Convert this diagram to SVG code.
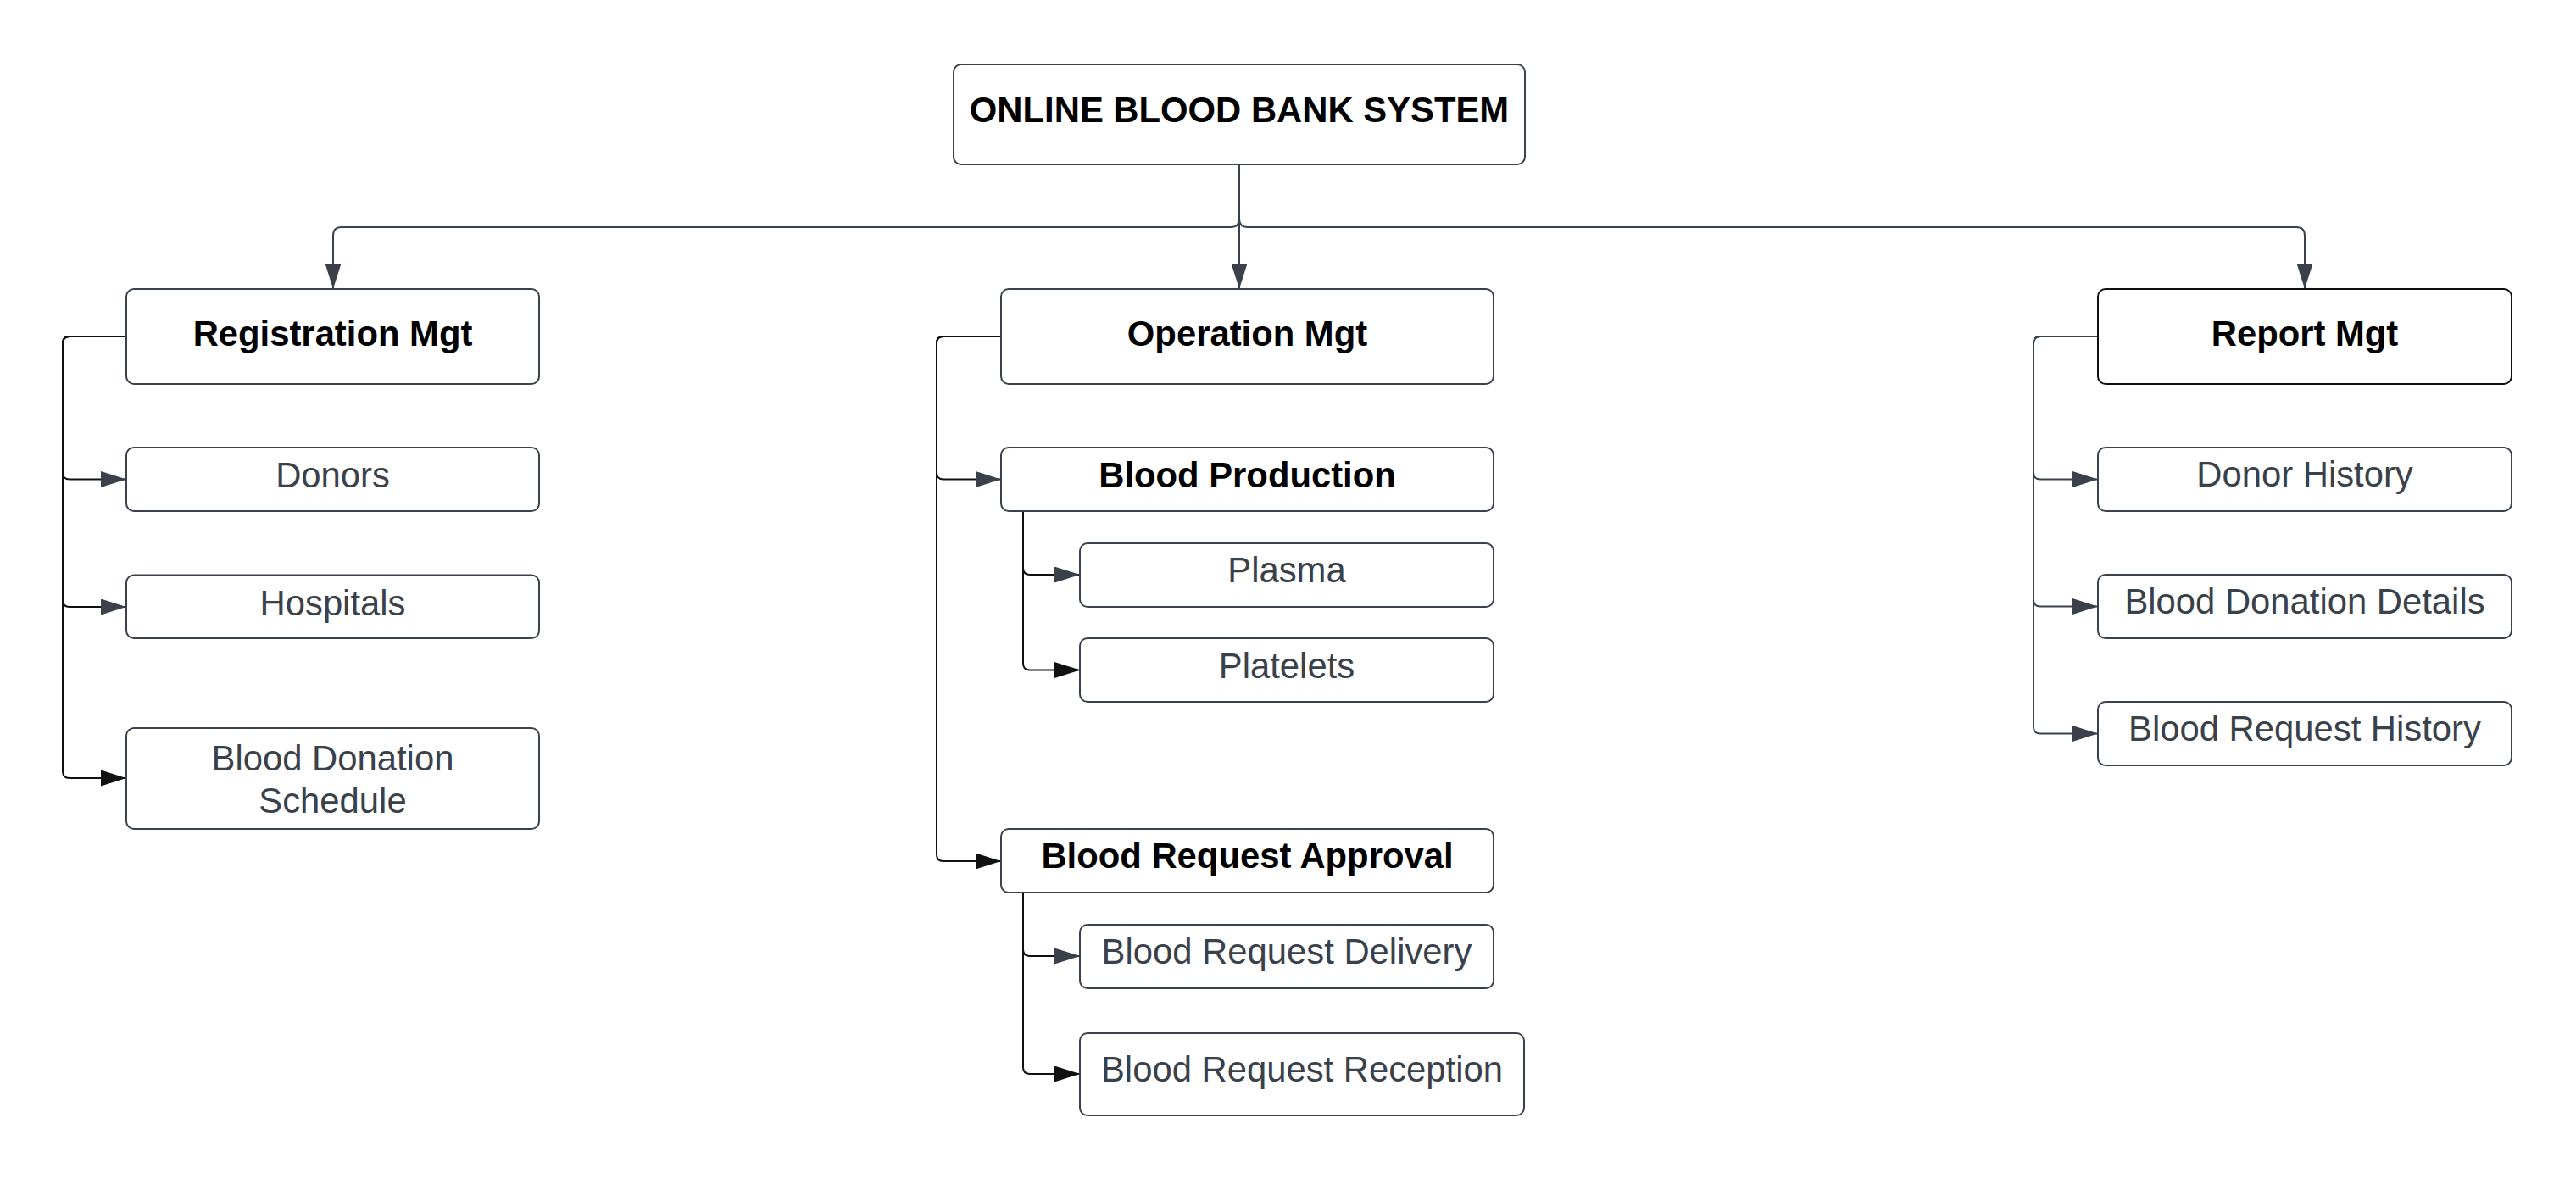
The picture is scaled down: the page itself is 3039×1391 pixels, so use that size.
<svg xmlns="http://www.w3.org/2000/svg" width="3039" height="1391" viewBox="0 0 3039 1391">
<style>
.box{fill:#fff;stroke:#3a414a;stroke-width:2}
.dark{stroke:#111}
.b{font-family:"Liberation Sans",Arial,sans-serif;font-size:41.8px;font-weight:bold;fill:#000;text-anchor:middle}
.r{font-family:"Liberation Sans",Arial,sans-serif;font-size:41.8px;fill:#3a414a;text-anchor:middle}
.c{fill:none;stroke:#3a414a;stroke-width:2}
.ck{fill:none;stroke:#111;stroke-width:2}
</style>
<defs>
<marker id="ag" markerUnits="userSpaceOnUse" markerWidth="30" markerHeight="19" refX="30" refY="9.5" orient="auto"><path d="M0,0 L30,9.5 L0,19 z" fill="#3a414a"/></marker>
<marker id="ak" markerUnits="userSpaceOnUse" markerWidth="30" markerHeight="19" refX="30" refY="9.5" orient="auto"><path d="M0,0 L30,9.5 L0,19 z" fill="#111"/></marker>
</defs>
<rect width="3039" height="1391" fill="#fff"/>
<g id="connectors">
<path class="c" d="M1462,195 V258 Q1462,268 1452,268 H403 Q393,268 393,278 V341" marker-end="url(#ag)"/>
<path class="c" d="M1462,195 V258 Q1462,268 1472,268 H2709 Q2719,268 2719,278 V341" marker-end="url(#ag)"/>
<path class="c" d="M1462,195 V341" marker-end="url(#ag)"/>
<path class="ck" d="M149,397 H82 Q74,397 74,405 V557.5 Q74,565.5 82,565.5 H149" marker-end="url(#ag)"/>
<path class="ck" d="M149,397 H82 Q74,397 74,405 V708 Q74,716 82,716 H149" marker-end="url(#ag)"/>
<path class="ck" d="M149,397 H82 Q74,397 74,405 V910 Q74,918 82,918 H149" marker-end="url(#ak)"/>
<path class="ck" d="M1181,397 H1113 Q1105,397 1105,405 V557.5 Q1105,565.5 1113,565.5 H1181" marker-end="url(#ag)"/>
<path class="ck" d="M1181,397 H1113 Q1105,397 1105,405 V1008 Q1105,1016 1113,1016 H1181" marker-end="url(#ak)"/>
<path class="ck" d="M1207,603 V670 Q1207,678 1215,678 H1274" marker-end="url(#ag)"/>
<path class="ck" d="M1207,603 V782.5 Q1207,790.5 1215,790.5 H1274" marker-end="url(#ak)"/>
<path class="ck" d="M1207,1053 V1120 Q1207,1128 1215,1128 H1274" marker-end="url(#ag)"/>
<path class="ck" d="M1207,1053 V1259 Q1207,1267 1215,1267 H1274" marker-end="url(#ak)"/>
<path class="c" d="M2475,397 H2407 Q2399,397 2399,405 V557.5 Q2399,565.5 2407,565.5 H2475" marker-end="url(#ag)"/>
<path class="c" d="M2475,397 H2407 Q2399,397 2399,405 V707.5 Q2399,715.5 2407,715.5 H2475" marker-end="url(#ag)"/>
<path class="c" d="M2475,397 H2407 Q2399,397 2399,405 V857.5 Q2399,865.5 2407,865.5 H2475" marker-end="url(#ag)"/>
</g>
<g id="title"><rect class="box" x="1125" y="76" width="674" height="118" rx="9"/><text class="b" x="1462" y="144">ONLINE BLOOD BANK SYSTEM</text></g>
<g id="registration"><rect class="box" x="149" y="341" width="487" height="112" rx="9"/><text class="b" x="392.5" y="408">Registration Mgt</text></g>
<g id="donors"><rect class="box" x="149" y="528" width="487" height="75" rx="9"/><text class="r" x="392.5" y="575">Donors</text></g>
<g id="hospitals"><rect class="box" x="149" y="678.5" width="487" height="74.5" rx="9"/><text class="r" x="392.5" y="726">Hospitals</text></g>
<g id="schedule"><rect class="box" x="149" y="859" width="487" height="119" rx="9"/><text class="r" x="392.5" y="909">Blood Donation</text><text class="r" x="392.5" y="958.5">Schedule</text></g>
<g id="operation"><rect class="box" x="1181" y="341" width="581" height="112" rx="9"/><text class="b" x="1471.5" y="408">Operation Mgt</text></g>
<g id="production"><rect class="box" x="1181" y="528" width="581" height="75" rx="9"/><text class="b" x="1471.5" y="575">Blood Production</text></g>
<g id="plasma"><rect class="box" x="1274" y="641" width="488" height="75" rx="9"/><text class="r" x="1518" y="687">Plasma</text></g>
<g id="platelets"><rect class="box" x="1274" y="753" width="488" height="75" rx="9"/><text class="r" x="1518" y="799.5">Platelets</text></g>
<g id="approval"><rect class="box" x="1181" y="978" width="581" height="75" rx="9"/><text class="b" x="1471.5" y="1024">Blood Request Approval</text></g>
<g id="delivery"><rect class="box" x="1274" y="1091" width="488" height="75" rx="9"/><text class="r" x="1518" y="1137">Blood Request Delivery</text></g>
<g id="reception"><rect class="box" x="1274" y="1219" width="524" height="97" rx="9"/><text class="r" x="1536" y="1276">Blood Request Reception</text></g>
<g id="report"><rect class="box dark" x="2475" y="341" width="488" height="112" rx="9"/><text class="b" x="2719" y="408">Report Mgt</text></g>
<g id="donorhistory"><rect class="box" x="2475" y="528" width="488" height="75" rx="9"/><text class="r" x="2719" y="574">Donor History</text></g>
<g id="donationdetails"><rect class="box" x="2475" y="678" width="488" height="75" rx="9"/><text class="r" x="2719" y="724">Blood Donation Details</text></g>
<g id="requesthistory"><rect class="box" x="2475" y="828" width="488" height="75" rx="9"/><text class="r" x="2719" y="874">Blood Request History</text></g>
</svg>
